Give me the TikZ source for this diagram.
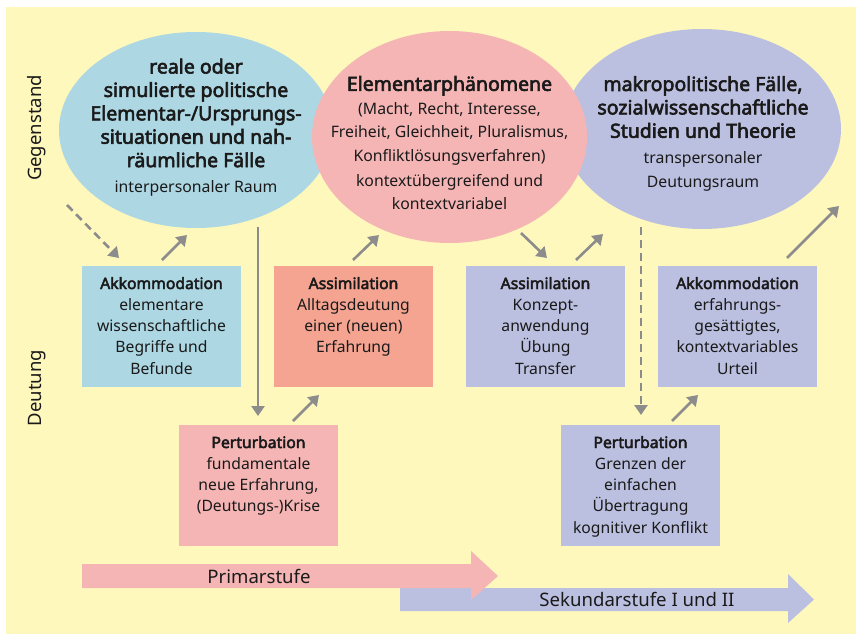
\documentclass[tikz,border=0pt]{standalone}
\usepackage{fontspec}
\setmainfont{Noto Sans}[AutoFakeBold=3]
\usetikzlibrary{arrows.meta,shapes.geometric}
\definecolor{bgyellow}{HTML}{FEF8BC}
\definecolor{cblue}{HTML}{ADD7E3}
\definecolor{cpink}{HTML}{F5B5B5}
\definecolor{cpurple}{HTML}{BCC0E0}
\definecolor{csalmon}{HTML}{F4A491}
\definecolor{cgray}{HTML}{8C8C8C}
\definecolor{ctext}{HTML}{1A1A1A}
\newcommand{\boxtxt}[1]{\parbox[c][121pt][t]{159pt}{\centering\fontsize{15.7}{21.3}\selectfont\rule{0pt}{23pt}#1}}
\newcommand{\ttl}{\fontsize{19.5}{23.5}\selectfont\bfseries}
\newcommand{\sub}{\fontsize{15.8}{23}\selectfont\mdseries}
\tikzset{
  ell/.style={ellipse, inner sep=0pt, draw=none},
  boxnode/.style={rectangle, inner sep=0pt, minimum width=159pt, minimum height=121pt, text=ctext},
  etext/.style={align=center, text=ctext, inner sep=0pt, font=\fontsize{15}{23.4}\selectfont},
  arr/.style={draw=cgray, line width=2.6pt, -{Triangle[length=10pt,width=13pt]}},
  darr/.style={arr, dash pattern=on 8pt off 5pt},
  sidelabel/.style={rotate=90, text=ctext, font=\fontsize{18.5}{20}\selectfont},
  barlabel/.style={text=ctext, font=\fontsize{18.6}{20}\selectfont, inner sep=0pt}
}
\begin{document}
\begin{tikzpicture}[x=1pt,y=-1pt]
\useasboundingbox (0,0) rectangle (856,634);
\fill[white] (0,0) rectangle (856,634);
\fill[bgyellow] (6,7) rectangle (856,634);

% ellipses
\node[ell, fill=cblue, minimum width=274pt, minimum height=196pt] (e1) at (196,130) {};
\node[ell, fill=cpurple, minimum width=278pt, minimum height=200pt] (e3) at (702,129) {};
\node[ell, fill=cpink, minimum width=275pt, minimum height=212pt] (e2) at (449.5,137) {};

\node[etext] (t1) at (196,127.5) {\ttl reale oder\\ \ttl simulierte politische\\ \ttl Elementar-/Ursprungs-\\ \ttl situationen und nah-\\ \ttl räumliche Fälle\\[2pt] \sub interpersonaler Raum};
\node[etext] (t2) at (449.5,143) {\ttl Elementarphänomene\\ \sub (Macht, Recht, Interesse,\\ \sub Freiheit, Gleichheit, Pluralismus,\\ \sub Konfliktlösungsverfahren)\\[2pt] \sub kontextübergreifend und\\ \sub kontextvariabel};
\node[etext] (t3) at (703,133.5) {\ttl makropolitische Fälle,\\ \ttl sozialwissenschaftliche\\ \ttl Studien und Theorie\\[2.5pt] \sub transpersonaler\\ \sub Deutungsraum};

% side labels
\node[sidelabel] (gg) at (37,128) {Gegenstand};
\node[sidelabel] (dt) at (37,388) {Deutung};

% boxes
\node[boxnode, fill=cblue] (akk1) at (161.5,326.5) {\boxtxt{\textbf{Akkommodation}\\elementare\\wissenschaftliche\\Begriffe und\\Befunde}};
\node[boxnode, fill=csalmon] (ass1) at (353.5,326.5) {\boxtxt{\textbf{Assimilation}\\Alltagsdeutung\\einer (neuen)\\Erfahrung}};
\node[boxnode, fill=cpink] (per1) at (258.5,485.5) {\boxtxt{\textbf{Perturbation}\\fundamentale\\neue Erfahrung,\\(Deutungs-)Krise}};
\node[boxnode, fill=cpurple] (ass2) at (545.5,326.5) {\boxtxt{\textbf{Assimilation}\\Konzept-\\anwendung\\Übung\\Transfer}};
\node[boxnode, fill=cpurple] (akk2) at (737.5,326.5) {\boxtxt{\textbf{Akkommodation}\\erfahrungs-\\gesättigtes,\\kontextvariables\\Urteil}};
\node[boxnode, fill=cpurple] (per2) at (640.5,485.5) {\boxtxt{\textbf{Perturbation}\\Grenzen der\\einfachen\\Übertragung\\kognitiver Konflikt}};

% connector end points
\coordinate (a1s) at (67,205);   \coordinate (a1e) at (119,258);
\coordinate (a2s) at (162,260);  \coordinate (a2e) at (187,235);
\coordinate (a3s) at (258,227);  \coordinate (a3e) at (258,416);
\coordinate (a4s) at (353,260);  \coordinate (a4e) at (379,235);
\coordinate (a5s) at (293,421);  \coordinate (a5e) at (319,395);
\coordinate (a6s) at (521,233);  \coordinate (a6e) at (547,258);
\coordinate (a7s) at (576,260);  \coordinate (a7e) at (603,234);
\coordinate (a8s) at (641,227);  \coordinate (a8e) at (641,415);
\coordinate (a9s) at (672,421);  \coordinate (a9e) at (698,395);
\coordinate (a10s) at (787,258); \coordinate (a10e) at (839,206);

\draw[darr] (a1s) -- (a1e);
\draw[arr] (a2s) -- (a2e);
\draw[arr] (a3s) -- (a3e);
\draw[arr] (a4s) -- (a4e);
\draw[arr] (a5s) -- (a5e);
\draw[arr] (a6s) -- (a6e);
\draw[arr] (a7s) -- (a7e);
\draw[darr] (a8s) -- (a8e);
\draw[arr] (a9s) -- (a9e);
\draw[arr] (a10s) -- (a10e);

% stage arrows
\fill[cpurple] (400,588) -- (788,588) -- (788,574) -- (814,599.5) -- (788,623) -- (788,611) -- (400,611) -- cycle;
\fill[cpink] (82,564) -- (471,564) -- (471,551) -- (498,576) -- (471,600) -- (471,588) -- (82,588) -- cycle;
\node[barlabel] (prim) at (259,576) {Primarstufe};
\node[barlabel] (sek) at (637,599.5) {Sekundarstufe I und II};
\end{tikzpicture}
\end{document}
